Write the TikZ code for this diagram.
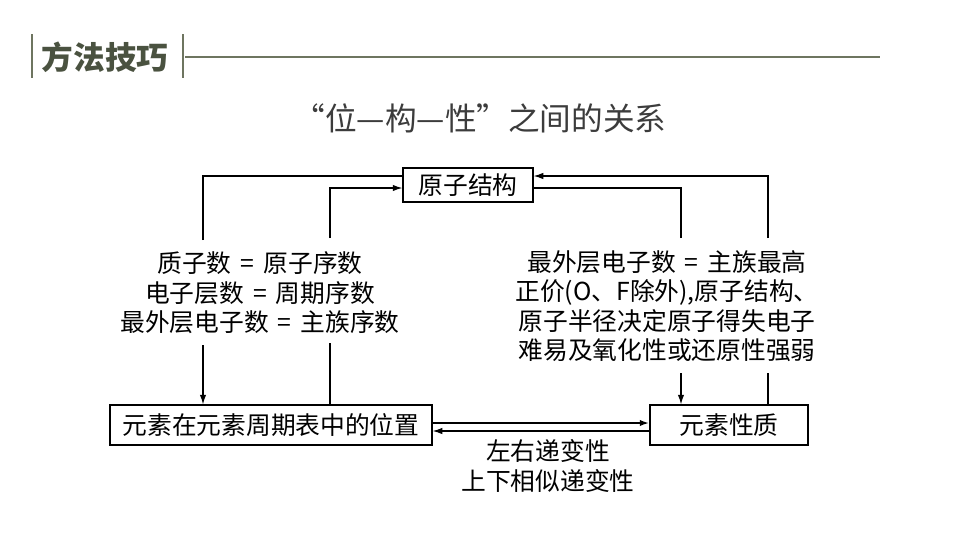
\documentclass[tikz,border=0pt]{standalone}
\usepackage{fontspec}
\setmainfont{Noto Sans CJK SC}
\usetikzlibrary{arrows.meta,positioning}
\definecolor{hc}{HTML}{4A5240}
\definecolor{bc}{HTML}{6E7560}
\definecolor{tc}{HTML}{3C3C3C}
\newcommand{\eqs}{~\hspace{2.5pt}=\hspace{2.5pt}~}

\begin{document}
\begin{tikzpicture}[
    x=0.025cm, y=-0.025cm,
    box/.style={draw, line width=0.9pt, inner sep=0pt, minimum height=1cm,
                font=\fontsize{17.6}{21}\selectfont},
    txt/.style={align=center, inner sep=0pt, font=\fontsize{17.6}{21}\selectfont},
    ln/.style={line width=0.8pt},
    ar/.style={ln, -{Latex[length=2.4mm,width=1.6mm]}},
    bar/.style={draw=bc, line width=1.6pt}
]
\useasboundingbox (0,0) rectangle (960,540);

% header
\node[inner sep=0pt, text=hc, font=\fontsize{22.5}{24}\selectfont\bfseries] (fx) at (105,57) {方法技巧};
\draw[bar] (32,34) -- (32,78);
\draw[bar] (183,34) -- (183,78);
\draw[draw=bc, line width=0.9pt] (185,57) -- (880,57);

\node[inner sep=0pt, text=tc, font=\fontsize{22.5}{26}\selectfont] (tt) at (480,118) {“位—构—性”之间的关系};

% boxes
\node[box, minimum width=3.25cm, minimum height=0.85cm] (jg) at (468,185) {原子结构};
\node[box, minimum width=8.05cm] (wz) at (271,425) {元素在元素周期表中的位置};
\node[box, minimum width=3.95cm] (xz) at (729,425) {元素性质};

\node[txt] (lt) at (260,293) {质子数\eqs 原子序数\\电子层数\eqs 周期序数\\最外层电子数\eqs 主族序数};
\node[txt] (rt) at (667,306) {最外层电子数\eqs 主族最高\\正价(O、F除外),原子结构、\\原子半径决定原子得失电子\\难易及氧化性或还原性强弱};

\node[txt] (lb1) at (548,451) {左右递变性};
\node[txt] (lb2) at (548,481) {上下相似递变性};

% free ends
\coordinate (hi) at (0,176);
\coordinate (lo) at (0,188);
\coordinate (l1) at (203,240);
\coordinate (l2) at (330,238);
\coordinate (r1) at (681,238);
\coordinate (r2) at (768,238);
\coordinate (l3) at (203,345);
\coordinate (l4) at (330,343);
\coordinate (r3) at (681,373);
\coordinate (r4) at (768,373);
\coordinate (up) at (0,423);
\coordinate (dn) at (0,431);

\draw[ln] (l1) |- (jg.west |- hi);
\draw[ar] (l2) |- (jg.west |- lo);
\draw[ar] (r2) |- (jg.east |- hi);
\draw[ln] (r1) |- (jg.east |- lo);

\draw[ar] (l3) -- (wz.north -| l3);
\draw[ln] (wz.north -| l4) -- (l4);
\draw[ar] (r3) -- (xz.north -| r3);
\draw[ln] (xz.north -| r4) -- (r4);

\draw[ar, line width=1.6pt] (wz.east |- up) -- (xz.west |- up);
\draw[ar] (xz.west |- dn) -- (wz.east |- dn);
\end{tikzpicture}
\end{document}
